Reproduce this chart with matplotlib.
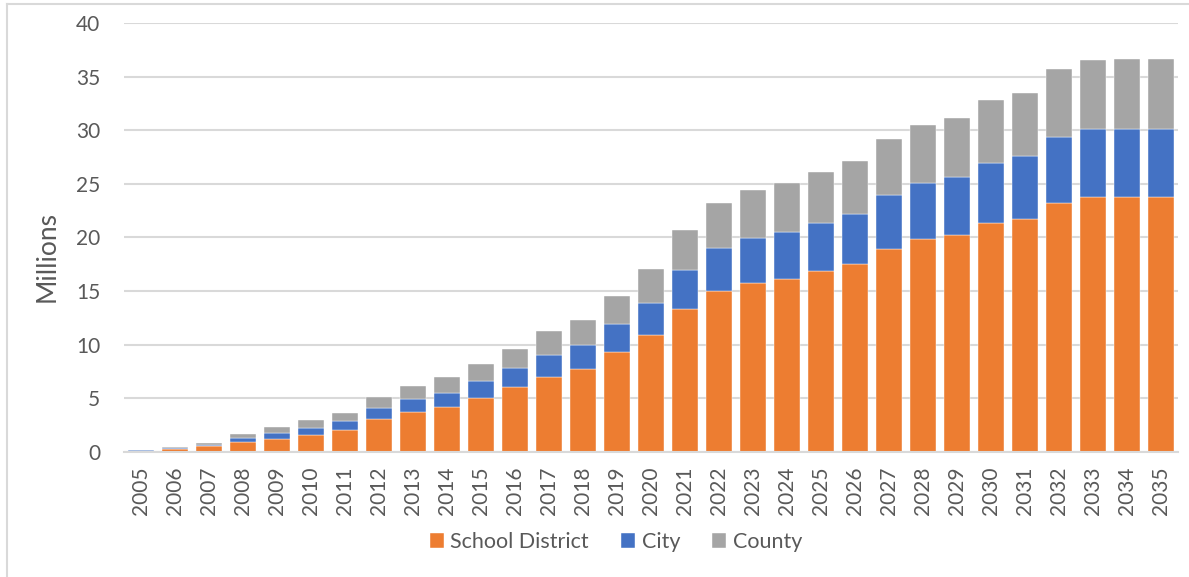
import matplotlib
matplotlib.use("Agg")
import matplotlib.pyplot as plt
from matplotlib.lines import Line2D
import numpy as np

years = [str(y) for y in range(2005, 2036)]

# values in millions
school = [0.05, 0.25, 0.5, 0.87, 1.21, 1.58, 1.99, 3.05, 3.67, 4.2, 5.03,
          6.03, 6.99, 7.74, 9.29, 10.91, 13.33, 14.98, 15.76, 16.13, 16.88,
          17.5, 18.9, 19.8, 20.2, 21.35, 21.75, 23.22, 23.78, 23.78, 23.78]
city = [0.07, 0.05, 0.15, 0.37, 0.53, 0.63, 0.84, 0.99, 1.21, 1.3, 1.53,
        1.74, 2.02, 2.17, 2.58, 3.01, 3.64, 4.01, 4.22, 4.41, 4.5,
        4.72, 5.03, 5.28, 5.41, 5.62, 5.85, 6.18, 6.31, 6.31, 6.31]
county = [0.03, 0.14, 0.16, 0.41, 0.56, 0.74, 0.77, 1.09, 1.27, 1.46, 1.64,
          1.83, 2.21, 2.4, 2.7, 3.11, 3.76, 4.26, 4.45, 4.51, 4.73,
          4.88, 5.22, 5.41, 5.56, 5.88, 5.9, 6.31, 6.46, 6.52, 6.52]

ORANGE = "#ED7D31"
BLUE = "#4472C4"
GREY = "#A5A5A5"
TEXT = "#595959"
GRID = "#D9D9D9"

plt.rcParams["font.family"] = ["Lato", "DejaVu Sans"]

fig = plt.figure(figsize=(11.89, 5.77), dpi=100)
ax = fig.add_axes([124 / 1189, 1 - 451.7 / 577, (1178 - 124) / 1189, (451.7 - 23) / 577])

x = np.arange(len(years))
school = np.array(school)
city = np.array(city)
county = np.array(county)
w = 0.79

ax.bar(x, school, w, color=ORANGE, edgecolor="white", linewidth=0.3, label="School District", zorder=3)
ax.bar(x, city, w, bottom=school, color=BLUE, edgecolor="white", linewidth=0.3, label="City", zorder=3)
ax.bar(x, county, w, bottom=school + city, color=GREY, edgecolor="white", linewidth=0.3, label="County", zorder=3)

ax.set_xlim(-0.5, len(years) - 0.5)
ax.set_ylim(0, 40)
ax.set_yticks(range(0, 41, 5))
ax.set_xticks(x)
ax.set_xticklabels(years, rotation=90)
ax.tick_params(axis="both", length=0, labelsize=15, colors=TEXT)
ax.tick_params(axis="x", pad=11)
ax.tick_params(axis="y", pad=17)
ax.yaxis.grid(True, color=GRID, linewidth=1.5, zorder=0)
ax.set_axisbelow(True)
for s in ["top", "right", "left"]:
    ax.spines[s].set_visible(False)
ax.spines["bottom"].set_color(GRID)
ax.spines["bottom"].set_linewidth(1.5)
ax.spines["bottom"].set_zorder(4)

fig.text(47 / 1189, 1 - 257 / 577, "Millions", rotation=90, ha="center", va="center",
         fontsize=19, color=TEXT)

handles, labels = ax.get_legend_handles_labels()
fig.legend(handles, labels, loc="center", bbox_to_anchor=(0.518, 1 - 542 / 577), ncol=3,
           frameon=False, fontsize=15.5, labelcolor=TEXT, handlelength=0.65, handleheight=0.65,
           handletextpad=0.3, columnspacing=1.5)

# chart frame (only left and top edges are visible in the crop)
fig.add_artist(Line2D([7 / 1189, 7 / 1189], [0, 1 - 4 / 577], color=GRID, linewidth=1.5))
fig.add_artist(Line2D([7 / 1189, 1], [1 - 4 / 577, 1 - 4 / 577], color=GRID, linewidth=1.5))

fig.savefig("out.png", dpi=100)
